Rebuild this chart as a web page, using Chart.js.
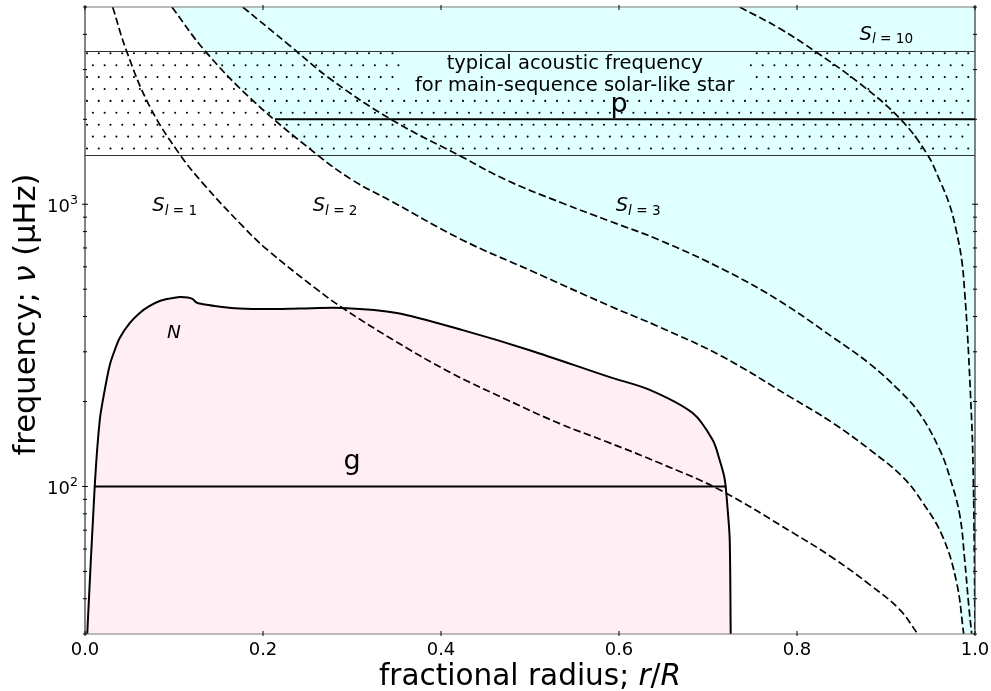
<!DOCTYPE html>
<html>
<head>
<meta charset="utf-8">
<script src="https://cdn.jsdelivr.net/npm/chart.js@4.4.1/dist/chart.umd.min.js"></script>
<style>
html, body { margin: 0; padding: 0; background: #fff; }
#wrap { width: 991px; height: 691px; position: relative; }
</style>
</head>
<body>
<div id="wrap"><canvas id="grafico"></canvas></div>
<script>
// Curvas: [r/R, nu (uHz)]
const sl1 = [[0.0311,5000],[0.0469,3476],[0.0727,2222],[0.1064,1503],[0.1345,1167],[0.1772,836],[0.2041,693],[0.2603,500],
  [0.2895,429],[0.3446,333],[0.4098,254],[0.4739,203],[0.5334,167],[0.5862,144],[0.6457,121],[0.7131,97.3],[0.7951,68.6],
  [0.8401,55.9],[0.8816,44.9],[0.9154,36.6],[0.9357,30]];
const sl2 = [[0.0976,5000],[0.1345,3505],[0.1884,2333],[0.2603,1503],[0.3008,1216],[0.3443,1025],[0.4244,746],[0.4997,584],
  [0.5896,436],[0.6457,367],[0.7166,288],[0.7941,206],[0.8401,168],[0.8817,135],[0.9188,108],[0.9413,87.6],[0.9637,66.4],
  [0.9794,45.6],[0.9873,30]];
const sl3 = [[0.1772,5000],[0.23,3651],[0.2749,2791],[0.3443,1994],[0.4244,1467],[0.4739,1216],[0.5368,1008],[0.5896,871],
  [0.6457,746],[0.721,579],[0.7806,454],[0.8401,338],[0.8817,272],[0.9154,218],[0.9379,181],[0.9603,135],[0.9716,108],
  [0.9828,79.4],[0.9884,55],[0.9929,38.1],[0.9963,30]];
const sl10 = [[0.7356,5000],[0.7806,4194],[0.8222,3449],[0.8705,2679],[0.9154,2015],[0.9457,1515],[0.9603,1216],[0.9716,992],
  [0.9783,823],[0.9851,634],[0.9884,488],[0.9918,336],[0.9951,206],[0.9974,135],[0.9991,64.8],[1.0,30]];
const brunt = [[0.0025,30],[0.0109,100],[0.0166,172],[0.0222,220],[0.0278,269],[0.0334,304],[0.039,336],[0.0502,379],
  [0.0615,412],[0.0727,436],[0.0839,454],[0.0952,463],[0.1064,469],[0.1154,467],[0.121,461],[0.1255,448],[0.1289,445],
  [0.1457,436],[0.1738,427],[0.2075,425],[0.2412,427],[0.2895,429],[0.3502,412],[0.4244,358],[0.4997,304],[0.5896,244],
  [0.6345,220],[0.6828,182],[0.7053,146],[0.7131,124],[0.7188,106],[0.7221,82.7],[0.7244,64.8],[0.7255,30]];
const lineaG = [[0.0109,100],[0.7208,100]];
const lineaP = [[0.2135,2000],[1.0,2000]];
const bandaAcustica = [1500, 3500];

// ejes
const xTicks = [0, 0.2, 0.4, 0.6, 0.8, 1.0];
const xTickLabels = ['0.0', '0.2', '0.4', '0.6', '0.8', '1.0'];
const yMajor = [100, 1000];
const yMajorLabels = [['10', '2'], ['10', '3']];
const yMinor = [30, 40, 50, 60, 70, 80, 90, 200, 300, 400, 500, 600, 700, 800, 900, 2000, 3000, 4000, 5000];

// anotaciones (coordenadas de datos)
const etiquetasS = [['1', 0.0757, 946], ['2', 0.2558, 946], ['3', 0.5963, 946], ['10', 0.8703, 3824]];
const cajaTexto = [0.354, 0.747, 2430, 3500];
const lineasTexto = [['typical acoustic frequency', 0.5503, 3020], ['for main-sequence solar-like star', 0.5503, 2516]];

const FONT = '"DejaVu Sans", sans-serif';
const pts = a => a.map(([x, y]) => ({ x, y }));

function texto(ctx, partes, x, y, align) {
    let ancho = 0;
    partes.forEach(p => {
        ctx.font = (p.italic ? 'italic ' : '') + p.size + 'px ' + FONT;
        p.w = ctx.measureText(p.t).width;
        ancho += p.w;
    });
    let cx = align === 'center' ? x - ancho / 2 : (align === 'right' ? x - ancho : x);
    ctx.textAlign = 'left';
    ctx.textBaseline = 'alphabetic';
    partes.forEach(p => {
        ctx.font = (p.italic ? 'italic ' : '') + p.size + 'px ' + FONT;
        ctx.fillText(p.t, cx, y + (p.dy || 0));
        cx += p.w;
    });
}

// banda punteada (se dibuja justo despues del relleno cian)
const pluginBanda = {
    id: 'banda',
    afterDatasetDraw(chart, args) {
        if (args.index !== 0) return;
        const ctx = chart.ctx, xs = chart.scales.x, ys = chart.scales.y;
        const left = xs.getPixelForValue(0), right = xs.getPixelForValue(1);
        const top = ys.getPixelForValue(bandaAcustica[1]), bottom = ys.getPixelForValue(bandaAcustica[0]);
        const bx0 = xs.getPixelForValue(cajaTexto[0]), bx1 = xs.getPixelForValue(cajaTexto[1]);
        const by0 = ys.getPixelForValue(cajaTexto[3]), by1 = ys.getPixelForValue(cajaTexto[2]);
        ctx.save();
        ctx.fillStyle = '#000';
        let fila = 0;
        for (let y = top + 2.6; y < bottom - 1; y += 11.9, fila++) {
            for (let x = left + 2 + (fila % 2) * 5.9; x < right - 1; x += 11.75) {
                if (x > bx0 && x < bx1 && y > by0 && y < by1) continue;
                ctx.beginPath();
                ctx.arc(x, y, 1.05, 0, Math.PI * 2);
                ctx.fill();
            }
        }
        ctx.strokeStyle = '#333';
        ctx.lineWidth = 1;
        ctx.beginPath();
        ctx.moveTo(left, Math.round(top) + 0.5); ctx.lineTo(right, Math.round(top) + 0.5);
        ctx.moveTo(left, Math.round(bottom) + 0.5); ctx.lineTo(right, Math.round(bottom) + 0.5);
        ctx.stroke();
        ctx.restore();
    }
};

// ejes, marcas, textos
const pluginEjes = {
    id: 'ejes',
    afterDatasetsDraw(chart) {
        const ctx = chart.ctx, xs = chart.scales.x, ys = chart.scales.y, a = chart.chartArea;
        ctx.save();
        ctx.fillStyle = '#000';

        // textos dentro del grafico
        lineasTexto.forEach(([t, r, nu]) => texto(ctx, [{ t, size: 19.5 }], xs.getPixelForValue(r), ys.getPixelForValue(nu), 'center'));
        etiquetasS.forEach(([l, r, nu]) => texto(ctx, [
            { t: 'S', size: 19.5, italic: true },
            { t: 'l', size: 13.6, italic: true, dy: 3.5 },
            { t: ' = ' + l, size: 13.6, dy: 3.5 }
        ], xs.getPixelForValue(r), ys.getPixelForValue(nu), 'left'));
        texto(ctx, [{ t: 'N', size: 18.5, italic: true }], xs.getPixelForValue(0.1), ys.getPixelForValue(335), 'center');
        texto(ctx, [{ t: 'g', size: 27 }], xs.getPixelForValue(0.3), ys.getPixelForValue(115), 'center');
        texto(ctx, [{ t: 'p', size: 27 }], xs.getPixelForValue(0.6), ys.getPixelForValue(2120), 'center');

        // marcos
        ctx.lineWidth = 1.2;
        ctx.strokeStyle = '#333';
        ctx.beginPath();
        ctx.moveTo(a.left, a.top); ctx.lineTo(a.left, a.bottom);
        ctx.moveTo(a.right, a.top); ctx.lineTo(a.right, a.bottom);
        ctx.stroke();
        ctx.strokeStyle = '#777';
        ctx.beginPath();
        ctx.moveTo(a.left, a.top); ctx.lineTo(a.right, a.top);
        ctx.moveTo(a.left, a.bottom); ctx.lineTo(a.right, a.bottom);
        ctx.stroke();

        // marcas
        ctx.strokeStyle = '#000';
        ctx.lineWidth = 1;
        ctx.beginPath();
        xTicks.forEach(v => {
            const px = xs.getPixelForValue(v);
            ctx.moveTo(px, a.bottom - 3); ctx.lineTo(px, a.bottom + 2);
            ctx.moveTo(px, a.top - 2); ctx.lineTo(px, a.top + 3);
        });
        yMajor.forEach(v => {
            const py = ys.getPixelForValue(v);
            ctx.moveTo(a.left - 3, py); ctx.lineTo(a.left + 3, py);
            ctx.moveTo(a.right - 3, py); ctx.lineTo(a.right + 3, py);
        });
        yMinor.forEach(v => {
            const py = ys.getPixelForValue(v);
            ctx.moveTo(a.left - 2, py); ctx.lineTo(a.left + 2, py);
            ctx.moveTo(a.right - 2, py); ctx.lineTo(a.right + 2, py);
        });
        ctx.stroke();

        // etiquetas de marcas
        xTicks.forEach((v, i) => texto(ctx, [{ t: xTickLabels[i], size: 18 }], xs.getPixelForValue(v), a.bottom + 21, 'center'));
        yMajor.forEach((v, i) => texto(ctx, [
            { t: yMajorLabels[i][0], size: 18 },
            { t: yMajorLabels[i][1], size: 12.6, dy: -7.5 }
        ], a.left - 7, ys.getPixelForValue(v) + 7.5, 'right'));

        // titulos
        texto(ctx, [{ t: 'fractional radius; ', size: 29.5 }, { t: 'r', size: 29.5, italic: true }, { t: '/', size: 29.5 }, { t: 'R', size: 29.5, italic: true }],
            (a.left + a.right) / 2, a.bottom + 51, 'center');
        ctx.translate(a.left - 50, (a.top + a.bottom) / 2 - 6);
        ctx.rotate(-Math.PI / 2);
        texto(ctx, [{ t: 'frequency; ', size: 30.5 }, { t: 'ν', size: 30.5, italic: true }, { t: ' (μHz)', size: 30.5 }], 0, 0, 'center');
        ctx.restore();
    }
};

const curva = (datos, extra) => Object.assign({
    data: pts(datos),
    showLine: true,
    pointRadius: 0,
    borderColor: '#000',
    borderWidth: 1.7,
    borderDash: [7.5, 3.5],
    fill: false,
    tension: 0.4
}, extra || {});

new Chart(document.getElementById('grafico'), {
    type: 'scatter',
    data: {
        datasets: [
            curva([...sl2, [1.0, 30]], { borderWidth: 0, borderDash: [], fill: 'end', backgroundColor: '#E0FFFF', order: 10 }),
            curva(brunt, { borderWidth: 2, borderDash: [], fill: 'start', backgroundColor: '#FFEEF3', order: 9, tension: 0.3 }),
            curva(sl1, { order: 3 }),
            curva(sl2, { order: 3 }),
            curva(sl3, { order: 3 }),
            curva(sl10, { order: 3 }),
            curva(lineaG, { borderWidth: 2, borderDash: [], order: 1, tension: 0 }),
            curva(lineaP, { borderWidth: 2, borderDash: [], order: 1, tension: 0 })
        ]
    },
    options: {
        responsive: true,
        maintainAspectRatio: false,
        animation: false,
        events: [],
        layout: { padding: { left: 85, right: 16, top: 7, bottom: 57 } },
        plugins: { legend: { display: false }, tooltip: { enabled: false } },
        scales: {
            x: { type: 'linear', min: 0, max: 1, display: false },
            y: { type: 'logarithmic', min: 30, max: 5000, display: false }
        }
    },
    plugins: [pluginBanda, pluginEjes]
});
</script>
</body>
</html>
